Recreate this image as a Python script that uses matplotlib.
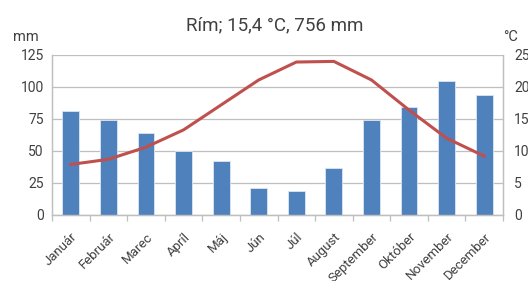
import matplotlib
matplotlib.use('Agg')
import matplotlib.pyplot as plt
import numpy as np

months = ['Január', 'Február', 'Marec', 'Apríl', 'Máj', 'Jún', 'Júl',
          'August', 'September', 'Október', 'November', 'December']
precip_mm = [81, 74, 64, 50, 42, 21, 19, 37, 74, 84, 105, 94]
temp_c = [7.9, 8.7, 10.6, 13.3, 17.2, 21.1, 23.9, 24.0, 21.1, 16.4, 12.0, 9.2]

C_BAR, C_LINE, C_TEXT, C_GRID = '#4F81BD', '#C0504D', '#404040', '#BFBFBF'

plt.rcParams.update({
    'font.family': ['Roboto', 'DejaVu Sans'],
    'text.color': C_TEXT,
})

fig = plt.figure(figsize=(5.28, 2.81), dpi=100)
ax = fig.add_axes([52/528, 66/281, 451/528, 160/281])
x = np.arange(len(months))
ax.bar(x, precip_mm, 0.45, color=C_BAR, edgecolor='#DCE6F2', lw=0.6, zorder=2)
ax.set_xlim(-0.5, 11.5)
ax.set_ylim(0, 125)
ax.set_yticks(np.arange(0, 126, 25))
ax.grid(axis='y', color=C_GRID, lw=0.9, zorder=0)
ax.set_axisbelow(True)
ax.spines['top'].set_visible(False)
for s in ['left', 'right', 'bottom']:
    ax.spines[s].set_color(C_GRID)
    ax.spines[s].set_linewidth(0.9)
ax.tick_params(axis='y', length=0, labelsize=10, labelcolor=C_TEXT, pad=6)
ax.set_xticks(np.arange(-0.5, 12, 1))
ax.set_xticklabels([])
ax.tick_params(axis='x', which='major', length=4, color=C_GRID, width=0.9)
ax.set_xticks(x, minor=True)
ax.set_xticklabels(months, minor=True, rotation=45, ha='right', rotation_mode='anchor',
                   fontsize=9.5, color=C_TEXT)
ax.tick_params(axis='x', which='minor', length=0, pad=11)

ax2 = ax.twinx()
ax2.plot(x, temp_c, color=C_LINE, lw=2.2, zorder=3)
ax2.set_ylim(0, 25)
ax2.set_yticks(np.arange(0, 26, 5))
ax2.tick_params(axis='y', length=0, labelsize=10, labelcolor=C_TEXT, pad=8)
ax2.spines['top'].set_visible(False)
for s in ['left', 'right', 'bottom']:
    ax2.spines[s].set_color(C_GRID)
    ax2.spines[s].set_linewidth(0.9)

fig.text(275/528, 1 - 25/281, 'Rím; 15,4 °C, 756 mm', ha='center', va='center', fontsize=13.5)
fig.text(13/528, 1 - 37/281, 'mm', ha='left', va='center', fontsize=10.5)
fig.text(503/528, 1 - 37/281, '°C', ha='left', va='center', fontsize=10.5)

fig.savefig('out.png', dpi=100)
